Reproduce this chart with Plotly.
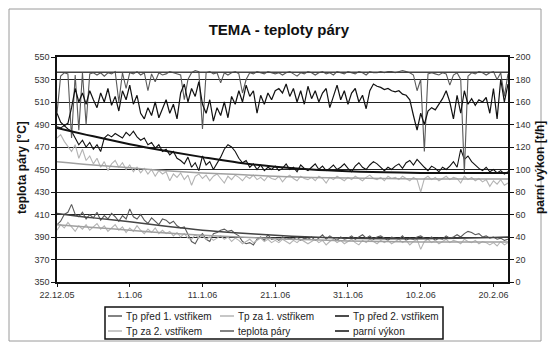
import plotly.graph_objects as go
import pandas as pd

# time axis: one value every 12 h from 22.12.2005
dates = pd.date_range("2005-12-22", periods=125, freq="12h")

parni_vykon = [
    150, 142, 139, 141, 155, 172, 160, 168, 158, 170,
    162, 155, 168, 160, 172, 157, 165, 152, 170, 162,
    175, 158, 166, 150, 145, 155, 148, 160, 146, 155,
    162, 150, 158, 145, 168, 176, 160, 172, 165, 178,
    158, 150, 162, 143, 155, 148, 160, 146, 165, 158,
    170, 160, 175, 165, 170, 150, 166, 158, 168, 162,
    170, 172, 168, 176, 165, 172, 160, 170, 158, 174,
    163, 170, 160, 168, 172, 155, 166, 175, 162, 170,
    158, 168, 172, 160, 166, 154, 170, 176, 174, 173,
    171, 172, 170, 169, 170, 167, 166, 162, 148, 135,
    150, 140, 152, 155, 153, 158, 163, 170, 160, 145,
    166, 150, 170, 158, 163, 157, 162, 160, 164, 150,
    172, 145, 180, 160, 176]

teplota_pary = [
    500, 533, 536, 535, 478, 534, 485, 536, 490, 535,
    536, 534, 536, 533, 536, 535, 537, 510, 536, 522,
    536, 535, 537, 534, 536, 520, 535, 528, 536, 534,
    535, 537, 536, 535, 534, 512, 530, 536, 538, 537,
    486, 536, 537, 535, 536, 527, 536, 534, 536, 537,
    535, 518, 530, 536, 535, 537, 536, 535, 537, 536,
    535, 536, 534, 536, 537, 535, 533, 536, 535, 537,
    536, 534, 536, 537, 535, 536, 534, 537, 536, 535,
    537, 536, 535, 537, 536, 534, 537, 536, 536, 537,
    536, 537, 537, 536, 537, 538, 537, 536, 534, 520,
    530, 466, 535, 536, 535, 534, 536, 535, 525, 534,
    536, 530, 447, 533, 536, 535, 537, 536, 534, 536,
    537, 530, 536, 515, 535]

tp_pred_2 = [
    488, 487, 489, 486, 484, 478, 472, 476, 470, 474,
    468, 472, 466, 478, 481, 479, 482, 480, 478, 483,
    480, 484, 479, 476, 478, 472, 474, 469, 472, 466,
    468, 463, 466, 460, 458, 455, 461, 452, 456, 449,
    462, 454, 457, 450, 455, 461, 468, 472, 470, 466,
    460, 456, 458, 452, 455, 450, 454, 449, 452, 450,
    453, 449, 451, 455, 450, 452, 448, 454, 451, 449,
    452, 455, 450, 453, 449, 451, 454, 450, 452, 455,
    451, 448, 453, 456, 452, 450, 454, 457, 455, 452,
    449, 452, 450, 453, 455, 451, 456, 458, 454, 459,
    455, 452, 449, 453, 451, 448, 452, 450, 453, 457,
    452, 468, 459, 462, 457, 454, 451, 449, 452, 448,
    450, 447, 449, 446, 448]

tp_za_2 = [
    478, 481, 475, 470, 466, 472, 460, 468, 458, 462,
    455, 460, 452, 457, 449, 455, 458, 452, 456, 450,
    454, 448, 452, 447, 451, 446, 450, 444, 449, 446,
    448, 440, 446, 443, 447, 441, 445, 436, 444, 446,
    442, 445, 440, 444, 446, 442, 438, 444, 441, 445,
    443, 440, 444, 442, 445, 441, 443, 440, 444, 442,
    441, 444, 439, 443, 445, 442, 440, 444, 442, 441,
    443, 440, 444, 442, 438, 443, 441, 444, 442, 440,
    443, 441, 444, 442, 440, 443, 445, 442, 441, 443,
    440, 444, 442, 443, 441, 444, 442, 440, 443, 441,
    430, 442, 444, 441, 443, 440, 442, 444, 441, 443,
    442, 438, 444, 441, 443, 440, 442, 439, 441, 435,
    440, 437, 441, 436, 438]

tp_pred_1 = [
    401, 404, 410, 412, 419, 410, 408, 412, 406, 410,
    407, 412, 405, 409, 406, 411, 408, 404, 409, 406,
    415, 408, 406, 410, 405, 402, 407, 404, 401, 406,
    405, 402, 404, 400, 398, 399, 392, 386, 384, 390,
    393, 388, 386, 393, 394, 396, 397, 395, 396, 393,
    391, 386, 384, 385, 383, 388, 390, 387, 392, 388,
    389, 387, 390, 388, 389, 388, 390, 387, 389, 388,
    390, 387, 389, 392, 388, 391, 389, 387, 390, 388,
    389, 391, 388, 390, 392, 389, 391, 388, 390, 391,
    389, 387, 390, 389, 388, 391, 387, 389, 388, 390,
    391, 389, 388, 390, 387, 389, 388, 391, 389, 390,
    392, 390, 393, 395, 394, 392, 393, 390, 391, 389,
    390, 388, 389, 387, 388]

tp_za_1 = [
    396, 401, 398, 403, 399, 395, 400, 397, 401, 396,
    399, 402, 397, 400, 395, 398, 401, 396, 399, 394,
    398, 395, 400, 396, 393, 397, 394, 398, 393, 396,
    393, 395, 391, 394, 390, 393, 389, 388, 392, 389,
    391, 388, 390, 387, 389, 391, 388, 390, 386, 389,
    387, 384, 386, 388, 385, 387, 389, 386, 388, 385,
    387, 385, 388, 386, 384, 387, 385, 388, 386, 384,
    386, 388, 385, 387, 383, 386, 388, 385, 387, 384,
    386, 388, 385, 383, 387, 385, 388, 386, 384, 387,
    385, 387, 384, 386, 388, 385, 387, 383, 386, 388,
    379, 386, 388, 385, 387, 384, 386, 388, 385, 387,
    386, 384, 388, 386, 385, 387, 384, 386, 385, 383,
    385, 382, 386, 383, 385]

# trend lines
trend_dates = ["2005-12-22", "2005-12-27", "2006-01-01", "2006-01-06", "2006-01-11",
               "2006-01-16", "2006-01-21", "2006-01-26", "2006-01-31", "2006-02-05",
               "2006-02-10", "2006-02-15", "2006-02-20", "2006-02-22"]
trend_pred_2 = [487, 479.5, 472.5, 466.5, 461, 456, 452.5, 450, 448.5, 447.5, 447, 447, 447, 447]
trend_za_2 = [457, 454, 451.5, 449, 447, 445.5, 444, 443, 442.5, 442, 441.5, 441.5, 441.5, 441.5]
trend_pred_1 = [411, 407, 403.5, 399.5, 396, 393.5, 391.5, 390, 389, 388.5, 388.5, 389, 389.5, 390]
trend_za_1 = [401, 398.5, 396, 393.5, 391.5, 390, 388.5, 387.5, 386.5, 386, 385.5, 385.5, 385.5, 385.5]
trend_pary = [536.5] * 14

tick_vals = ["2005-12-22", "2006-01-01", "2006-01-11", "2006-01-21", "2006-01-31", "2006-02-10", "2006-02-20"]
tick_text = ["22.12.05", "1.1.06", "11.1.06", "21.1.06", "31.1.06", "10.2.06", "20.2.06"]

series_names = ["Tp před 1. vstřikem", "Tp za 1. vstřikem", "Tp před 2. vstřikem",
                "Tp za 2. vstřikem", "teplota páry", "parní výkon"]

C_DARK = "#5a5a5a"
C_LIGHT = "#b4b4b4"
C_BLACK = "#111111"
series_colors = [C_DARK, C_LIGHT, C_BLACK, C_LIGHT, C_DARK, C_BLACK]

fig = go.Figure()

main_series = [tp_pred_1, tp_za_1, tp_pred_2, tp_za_2, teplota_pary]
for vals, nm, col in zip(main_series, series_names[:5], series_colors[:5]):
    fig.add_trace(go.Scatter(x=dates, y=vals, mode="lines", name=nm, showlegend=False,
                             line=dict(color=col, width=1.1)))

for vals, col, w in [(trend_za_1, "#a0a0a0", 1.5), (trend_pred_1, "#444444", 1.5),
                     (trend_za_2, "#a0a0a0", 1.5), (trend_pred_2, "#111111", 2)]:
    fig.add_trace(go.Scatter(x=trend_dates, y=vals, mode="lines", showlegend=False,
                             line=dict(color=col, width=w, shape="spline")))
fig.add_trace(go.Scatter(x=trend_dates, y=trend_pary, mode="lines", showlegend=False,
                         line=dict(color="#444444", width=1.5)))

fig.add_trace(go.Scatter(x=dates, y=parni_vykon, mode="lines", name=series_names[5], showlegend=False,
                         line=dict(color=series_colors[5], width=1.2), yaxis="y2"))

FONT = "Liberation Sans, Arial, sans-serif"

# plot area in pixels (for placing legend / frame in paper coordinates)
L, R, T, B = 57, 508, 57, 282
def px(x):
    return (x - L) / (R - L)
def py(y):
    return (B - y) / (B - T)

annotations = [
    dict(text="<b>teplota páry [°C]</b>", xref="paper", yref="paper", x=px(22), y=py(168),
         xanchor="center", yanchor="middle", textangle=-90, showarrow=False,
         font=dict(family=FONT, size=12, color="#111111")),
    dict(text="<b>parní výkon [t/h]</b>", xref="paper", yref="paper", x=px(540), y=py(168),
         xanchor="center", yanchor="middle", textangle=-90, showarrow=False,
         font=dict(family=FONT, size=12, color="#111111")),
]
shapes = [
    dict(type="rect", xref="paper", yref="paper", x0=px(9), x1=px(541), y0=py(341), y1=py(9),
         line=dict(color="#9a9a9a", width=1), fillcolor="rgba(0,0,0,0)", layer="below"),
    dict(type="rect", xref="paper", yref="paper", x0=px(105), x1=px(443), y0=py(339), y1=py(307),
         line=dict(color="#111111", width=1.5), fillcolor="white"),
]
# legend entries: 3 columns x 2 rows
col_x = [108, 220, 335]
row_y = [316, 331]
for i, (nm, col) in enumerate(zip(series_names, series_colors)):
    cx = col_x[i % 3]
    ry = row_y[i // 3]
    shapes.append(dict(type="line", xref="paper", yref="paper", x0=px(cx), x1=px(cx + 14),
                       y0=py(ry), y1=py(ry), line=dict(color=col, width=1.5)))
    annotations.append(dict(text=nm, xref="paper", yref="paper", x=px(cx + 16), y=py(ry),
                            xanchor="left", yanchor="middle", showarrow=False,
                            font=dict(family=FONT, size=10, color="#222222")))

fig.update_layout(
    width=550, height=342,
    margin=dict(l=L, r=550 - R, t=T, b=342 - B, autoexpand=False),
    paper_bgcolor="white", plot_bgcolor="white",
    font=dict(family=FONT, size=9, color="#333333"),
    title=dict(text="<b>TEMA - teploty páry</b>", x=0.507, xanchor="center", y=0.912, yanchor="middle",
               font=dict(family=FONT, size=15, color="#111111")),
    showlegend=False,
    xaxis=dict(type="date", range=["2005-12-22", "2006-02-22"],
               tickvals=tick_vals, ticktext=tick_text, tickangle=0,
               showgrid=False, zeroline=False,
               showline=True, linecolor="#111111", linewidth=1.5, mirror=True,
               ticks="outside", ticklen=3, tickcolor="#111111",
               tickfont=dict(size=9, color="#333333")),
    yaxis=dict(range=[350, 550], dtick=20, tick0=350,
               showgrid=True, gridcolor="#222222", gridwidth=1, zeroline=False,
               showline=True, linecolor="#111111", linewidth=1.5, mirror=True,
               ticks="outside", ticklen=4, tickcolor="#111111",
               tickfont=dict(size=9, color="#333333")),
    yaxis2=dict(range=[0, 200], dtick=20, tick0=0, overlaying="y", side="right",
                showgrid=False, zeroline=False, showline=True, linecolor="#111111", linewidth=1.5,
                ticks="outside", ticklen=4, tickcolor="#111111",
                tickfont=dict(size=9, color="#333333")),
    annotations=annotations,
    shapes=shapes,
)

fig.write_html("out.html")
